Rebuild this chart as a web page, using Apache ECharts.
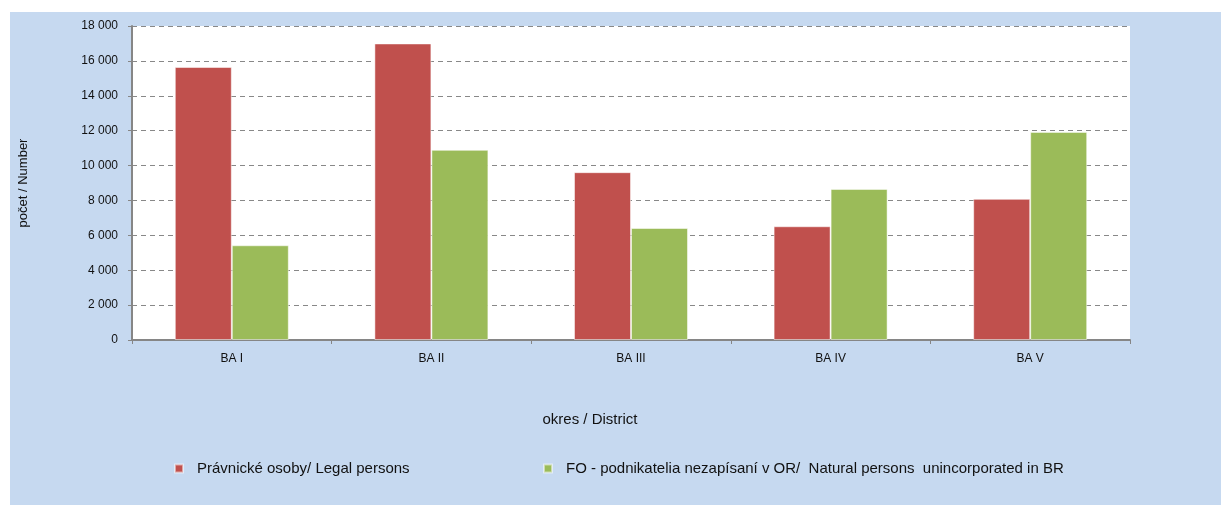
<!DOCTYPE html>
<html>
<head>
<meta charset="utf-8">
<script src="https://cdn.jsdelivr.net/npm/echarts@6/dist/echarts.min.js"></script>
<style>
  html, body { margin: 0; padding: 0; background: #fff; }
  #chart { width: 1221px; height: 505px; }
</style>
</head>
<body>
<div id="chart"></div>
<script>
  // districts of Bratislava
  const districts = ['BA I', 'BA II', 'BA III', 'BA IV', 'BA V'];
  const legalPersons = [15650, 17000, 9620, 6520, 8090];
  const naturalPersons = [5430, 10900, 6420, 8660, 11930];
  const legalName = 'Právnické osoby/ Legal persons';
  const naturalName = 'FO - podnikatelia nezapísaní v OR/  Natural persons  unincorporated in BR';

  const font = '"Liberation Sans", Arial, sans-serif';
  const chart = echarts.init(document.getElementById('chart'));

  const fmt = v => String(v).replace(/\B(?=(\d{3})+(?!\d))/g, ' ');

  chart.setOption({
    animation: false,
    graphic: [{
      type: 'rect',
      z: -10,
      shape: {x: 10, y: 12, width: 1211, height: 493},
      style: {fill: '#C6D9F0'}
    }],
    grid: {
      left: 132, top: 26, right: 91, bottom: 165,
      show: true, backgroundColor: '#fff', borderWidth: 0
    },
    legend: [{
      data: [legalName],
      left: 169, top: 456,
      icon: 'rect', itemWidth: 8, itemHeight: 8,
      textStyle: {fontFamily: font, fontSize: 15, color: '#111', padding: [0, 0, 0, 9]}
    }, {
      data: [naturalName],
      left: 538, top: 456,
      icon: 'rect', itemWidth: 8, itemHeight: 8,
      textStyle: {fontFamily: font, fontSize: 15, color: '#111', padding: [0, 0, 0, 9]}
    }],
    xAxis: {
      type: 'category',
      data: districts,
      name: 'okres / District',
      nameLocation: 'middle',
      nameGap: 72,
      nameTextStyle: {fontFamily: font, fontSize: 15, color: '#111', padding: [0, 82, 0, 0]},
      axisLine: {lineStyle: {color: '#868686', width: 2}},
      axisTick: {show: true, length: 4, lineStyle: {color: '#868686'}},
      axisLabel: {fontFamily: font, fontSize: 12, color: '#111', margin: 13}
    },
    yAxis: {
      type: 'value',
      min: 0, max: 18000, interval: 2000,
      name: 'počet / Number',
      nameLocation: 'middle',
      nameGap: 102,
      nameTextStyle: {fontFamily: font, fontSize: 13, color: '#111'},
      axisLine: {show: true, lineStyle: {color: '#868686', width: 2}},
      axisTick: {show: true, length: 4, lineStyle: {color: '#868686'}},
      axisLabel: {fontFamily: font, fontSize: 12, color: '#111', margin: 14, formatter: fmt},
      splitLine: {lineStyle: {color: '#888', type: [5, 4], width: 1}}
    },
    series: [{
      name: legalName,
      type: 'bar',
      data: legalPersons,
      barWidth: 57,
      barGap: '0%',
      itemStyle: {color: '#C0504D', borderColor: 'rgba(255,255,255,0.5)', borderWidth: 1}
    }, {
      name: naturalName,
      type: 'bar',
      data: naturalPersons,
      barWidth: 57,
      barGap: '0%',
      itemStyle: {color: '#9BBB59', borderColor: 'rgba(255,255,255,0.5)', borderWidth: 1}
    }]
  });
</script>
</body>
</html>
